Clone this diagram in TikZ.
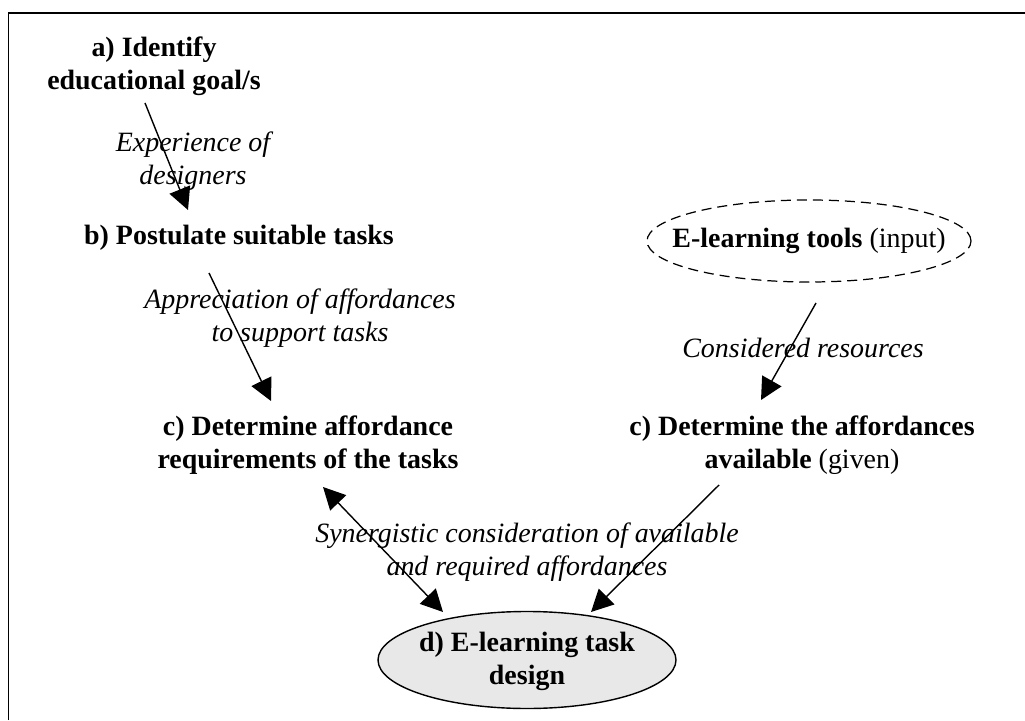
\documentclass[tikz,border=0pt]{standalone}
\usepackage{fontspec}
\setmainfont{Liberation Serif}
\usetikzlibrary{arrows.meta}

\newcommand\diagfont{\fontsize{15.9}{18.8}\selectfont}

\tikzset{
  stage/.style={font=\diagfont\bfseries, align=center, inner sep=0pt},
  plain/.style={font=\diagfont, align=center, inner sep=0pt},
  note/.style={font=\diagfont\itshape, align=center, inner sep=0pt},
  flow/.style={line width=0.8pt, -{Triangle[length=0.44cm,width=0.44cm]}},
  both/.style={line width=0.8pt, {Triangle[length=0.44cm,width=0.44cm]}-{Triangle[length=0.44cm,width=0.44cm]}},
}

\begin{document}
\begin{tikzpicture}
    \useasboundingbox (0,0) rectangle (20.5,14.4);
    \draw[line width=1pt] (0.17,0) -- (0.17,14.14) -- (20.5,14.14); % frame

    % stages
    \node[stage] (goal) at (3.08,13.08) {a) Identify\\educational goal/s};
    \node[stage] (tasks) at (4.78,9.64) {b) Postulate suitable tasks};
    \node[stage] (req) at (6.16,5.5) {c) Determine affordance\\requirements of the tasks};
    \node[plain] (avail) at (16.04,5.5) {\textbf{c) Determine the affordances}\\\textbf{available} (given)};

    \draw[dashed, dash pattern=on 0.2cm off 0.12cm, line width=0.7pt] (16.18,9.58) ellipse (3.24 and 0.82);
    \node[plain] (tools) at (16.18,9.58) {\textbf{E-learning tools} (input)};

    \filldraw[fill=gray!18, line width=0.8pt] (10.54,1.2) ellipse (2.98 and 0.97);
    \node[stage] (design) at (10.54,1.18) {d) E-learning task\\design};

    % labels
    \node[note] (exp) at (3.86,11.18) {Experience of\\designers};
    \node[note] (appr) at (6.0,8.04) {Appreciation of affordances\\to support tasks};
    \node[note] (cons) at (16.06,7.44) {Considered resources};
    \node[note] (syn) at (10.54,3.36) {Synergistic consideration of available\\and required affordances};

    % arrows
    \draw[flow] ([shift={(-0.18,-0.74)}]goal.center) -- ([shift={(-1.02,0.56)}]tasks.center);
    \draw[flow] ([shift={(-0.6,-0.7)}]tasks.center) -- ([shift={(-0.74,0.88)}]req.center);
    \draw[flow] ([shift={(0.14,-1.24)}]tools.center) -- ([shift={(-0.82,0.9)}]avail.center);
    \draw[both] ([shift={(0.3,-0.84)}]req.center) -- ([shift={(-1.68,0.98)}]design.center);
    \draw[flow] ([shift={(-1.66,-0.8)}]avail.center) -- ([shift={(1.28,0.98)}]design.center);
\end{tikzpicture}
\end{document}
